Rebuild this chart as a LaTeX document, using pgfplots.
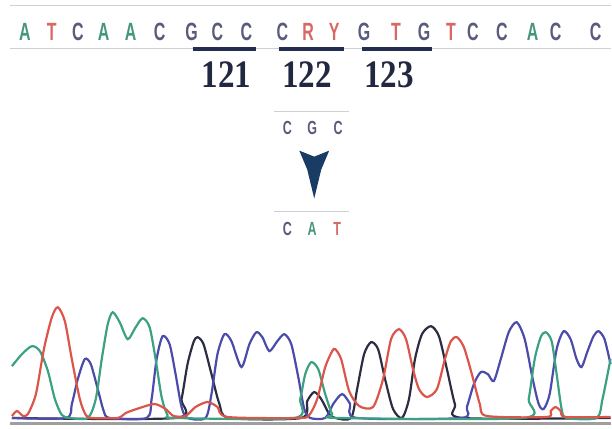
\documentclass[border=0pt]{standalone}
\usepackage{pgfplots}
\pgfplotsset{compat=1.18}
\usepackage{fontspec}
\setmainfont{Liberation Sans}
\newfontfamily\numfont{Liberation Serif}
\definecolor{seqA}{RGB}{70,150,120}
\definecolor{seqT}{RGB}{215,105,100}
\definecolor{seqC}{RGB}{90,90,125}
\definecolor{barnavy}{RGB}{35,45,80}
\definecolor{numcol}{RGB}{35,40,65}
\definecolor{tricol}{RGB}{25,60,100}
\definecolor{trG}{RGB}{60,160,130}
\definecolor{trR}{RGB}{220,85,75}
\definecolor{trB}{RGB}{75,75,170}
\definecolor{trK}{RGB}{45,45,65}
\definecolor{faint}{RGB}{205,208,215}
\begin{document}
\begin{tikzpicture}
\begin{axis}[width=612pt,height=430pt,scale only axis,
  xmin=0,xmax=612,ymin=0,ymax=430,y dir=reverse,hide axis,clip=false]
\path (axis cs:0,0) rectangle (axis cs:612,430);
% frame lines
\addplot[faint,line width=1pt] coordinates {(10,6) (612,6)};
\addplot[faint,line width=1pt] coordinates {(10,49) (612,49)};
\addplot[faint,line width=0.8pt] coordinates {(275,112) (350,112)};
\addplot[faint,line width=0.8pt] coordinates {(275,212) (350,212)};
% codon bars
\addplot[barnavy,line width=4pt] coordinates {(193,49) (257,49)};
\addplot[barnavy,line width=4pt] coordinates {(280,49) (345,49)};
\addplot[barnavy,line width=4pt] coordinates {(363,49) (433,49)};
% sequence
\begin{scope}[every node/.style={font=\bfseries\fontsize{25}{25}\selectfont,xscale=0.64,inner sep=0pt}]
\node[text=seqA] at (axis cs:25,32) {A};
\node[text=seqT] at (axis cs:52,32) {T};
\node[text=seqC] at (axis cs:78,32) {C};
\node[text=seqA] at (axis cs:104,32) {A};
\node[text=seqA] at (axis cs:131,32) {A};
\node[text=seqC] at (axis cs:160,32) {C};
\node[text=seqC] at (axis cs:192,32) {G};
\node[text=seqC] at (axis cs:218,32) {C};
\node[text=seqC] at (axis cs:247,32) {C};
\node[text=seqC] at (axis cs:283,32) {C};
\node[text=seqT] at (axis cs:309,32) {R};
\node[text=seqT] at (axis cs:335,32) {Y};
\node[text=seqC] at (axis cs:365,32) {G};
\node[text=seqT] at (axis cs:397,32) {T};
\node[text=seqC] at (axis cs:425,32) {G};
\node[text=seqT] at (axis cs:452,32) {T};
\node[text=seqC] at (axis cs:474,32) {C};
\node[text=seqC] at (axis cs:503,32) {C};
\node[text=seqA] at (axis cs:534,32) {A};
\node[text=seqC] at (axis cs:557,32) {C};
\node[text=seqC] at (axis cs:597,32) {C};
\end{scope}
% codon numbers
\begin{scope}[every node/.style={font=\numfont\bfseries\fontsize{39}{39}\selectfont,xscale=0.85,text=numcol,inner sep=0pt}]
\node at (axis cs:227,75) {121};
\node at (axis cs:308,75) {122};
\node at (axis cs:390,75) {123};
\end{scope}
% mutation
\begin{scope}[every node/.style={font=\bfseries\fontsize{19}{19}\selectfont,xscale=0.66,inner sep=0pt}]
\node[text=seqC] at (axis cs:288,128) {C};
\node[text=seqC] at (axis cs:313,128) {G};
\node[text=seqC] at (axis cs:339,128) {C};
\node[text=seqC] at (axis cs:288,230) {C};
\node[text=seqA] at (axis cs:313,230) {A};
\node[text=seqT] at (axis cs:338,230) {T};
\end{scope}
\addplot[fill=tricol,draw=none] coordinates {(300,151) (315,157) (330,151) (322,170) (315,199) (308,170) (300,151)};
% baseline bar
\addplot[gray!75,line width=3pt] coordinates {(10,425) (612,425)};
% traces
\addplot[trK,line width=2.2pt,smooth,tension=0.45] coordinates {(12,419) (176,419) (182,400) (188,365) (194,343) (198,338) (204,345) (212,375) (220,405) (230,419) (302,419) (308,402) (315,393) (322,400) (330,415) (336,419) (352,419) (358,390) (365,355) (372,343) (379,350) (386,380) (394,410) (403,419) (410,400) (416,360) (423,335) (432,327) (440,337) (448,370) (456,405) (464,419) (612,419)};
\addplot[trB,line width=2.2pt,smooth,tension=0.45] coordinates {(12,419) (66,419) (72,405) (78,380) (85,360) (91,365) (98,390) (104,412) (110,419) (147,419) (152,400) (157,360) (163,337) (170,345) (176,375) (182,408) (188,419) (206,419) (212,395) (218,355) (225,335) (232,342) (242,368) (250,345) (257,333) (263,338) (270,352) (278,342) (285,335) (292,345) (299,378) (305,410) (311,419) (326,419) (334,405) (343,395) (351,405) (358,419) (462,419) (468,408) (475,385) (482,373) (489,375) (495,382) (502,360) (510,333) (518,323) (526,340) (534,380) (540,405) (545,410) (551,395) (558,350) (565,332) (572,340) (578,360) (583,368) (589,352) (595,337) (600,332) (606,340) (612,365)};
\addplot[trG,line width=2.2pt,smooth,tension=0.45] coordinates {(12,367) (22,355) (32,347) (40,352) (48,372) (55,400) (62,416) (70,419) (88,419) (96,400) (102,360) (108,325) (113,313) (120,323) (128,340) (136,328) (143,319) (150,328) (156,360) (162,398) (168,416) (176,419) (295,419) (301,400) (306,375) (312,363) (319,370) (326,395) (333,415) (340,419) (524,419) (530,400) (536,360) (542,338) (547,333) (553,342) (558,375) (563,410) (568,419) (598,419) (604,400) (612,360)};
\addplot[trR,line width=2.2pt,smooth,tension=0.45] coordinates {(12,417) (17,412) (23,417) (28,415) (36,395) (44,350) (52,318) (58,308) (65,322) (72,360) (80,400) (86,416) (92,419) (118,419) (126,414) (140,409) (155,405) (166,410) (174,417) (186,417) (196,408) (208,403) (218,408) (228,418) (300,419) (310,416) (318,400) (326,368) (333,352) (336,350) (342,360) (350,392) (360,407) (374,408) (384,380) (392,340) (400,330) (407,340) (414,370) (420,390) (428,398) (438,390) (446,360) (452,342) (458,338) (465,348) (473,375) (481,405) (488,417) (548,418) (552,412) (557,408) (562,412) (567,418) (612,418)};
\end{axis}
\end{tikzpicture}
\end{document}
